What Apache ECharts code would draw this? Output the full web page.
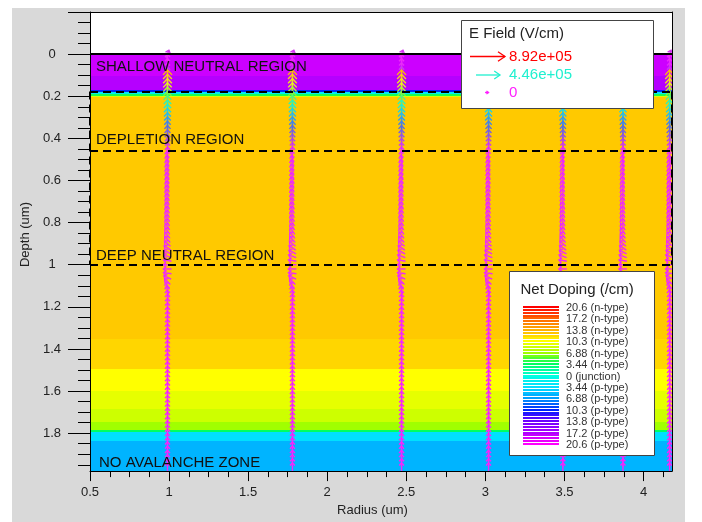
<!DOCTYPE html>
<html>
<head>
<meta charset="utf-8">
<title>Net doping and E field</title>
<script src="https://cdn.jsdelivr.net/npm/echarts@6/dist/echarts.min.js"></script>
<style>
  html, body { margin: 0; padding: 0; background: #fff; }
  #chart { width: 702px; height: 522px; }
</style>
</head>
<body>
<div id="chart"></div>
<script>
// axes
const radiusMin = 0.5, radiusMax = 4.18;
const depthMin = -0.2, depthMax = 1.98;
const radiusTicks = [0.5, 1, 1.5, 2, 2.5, 3, 3.5, 4];
const depthTicks = [-0.2, 0, 0.2, 0.4, 0.6, 0.8, 1, 1.2, 1.4, 1.6, 1.8];
const depthLabels = [0, 0.2, 0.4, 0.6, 0.8, 1, 1.2, 1.4, 1.6, 1.8];

// net doping layers (depth in um, signed level: + n-type, - p-type)
const bandTop    = [0.000, 0.105, 0.170, 0.180, 0.190, 0.197, 0.205, 1.355, 1.495, 1.600, 1.685, 1.745, 1.785, 1.795, 1.835];
const bandBottom = [0.105, 0.170, 0.180, 0.190, 0.197, 0.205, 1.355, 1.495, 1.600, 1.685, 1.745, 1.785, 1.795, 1.835, 1.980];
const bandDoping = [-18.4, -17.4, -10.0, -2.0, 4.0, 9.0, 12.7, 12.1, 10.3, 9.4, 8.5, 6.9, 3.4, -3.4, -5.8];

// legend levels of the doping scale
const dopingLevels = [20.6, 17.2, 13.8, 10.3, 6.88, 3.44, 0, -3.44, -6.88, -10.3, -13.8, -17.2, -20.6];

// regions
const regionNames = ['SHALLOW NEUTRAL REGION', 'DEPLETION REGION', 'DEEP NEUTRAL REGION', 'NO AVALANCHE ZONE'];
const regionTop = [0, 0.177, 0.457, 1.84];
const regionBottom = [0.177, 0.457, 1.0, 1.98];
const boundaryDepths = [0.177, 0.457, 1.0];

// E field vectors, same profile in every column
const arrowRadius = [0.99, 1.78, 2.47, 3.02, 3.49, 3.87, 4.165];
const arrowDepth = [
  0.00, 0.02, 0.04, 0.06, 0.08, 0.10, 0.12, 0.14, 0.16, 0.18,
  0.20, 0.22, 0.24, 0.26, 0.28, 0.30, 0.32, 0.34, 0.36, 0.38,
  0.40, 0.42, 0.44, 0.46, 0.48, 0.50, 0.52, 0.54, 0.56, 0.58,
  0.60, 0.62, 0.64, 0.66, 0.68, 0.70, 0.72, 0.74, 0.76, 0.78,
  0.80, 0.82, 0.84, 0.86, 0.88, 0.90, 0.92, 0.94, 0.96, 0.98,
  1.00, 1.02, 1.04, 1.06, 1.08, 1.10, 1.12, 1.14, 1.16, 1.18,
  1.20, 1.22, 1.24, 1.26, 1.28, 1.30, 1.32, 1.34, 1.36, 1.38,
  1.40, 1.42, 1.44, 1.46, 1.48, 1.50, 1.52, 1.54, 1.56, 1.58,
  1.60, 1.62, 1.64, 1.66, 1.68, 1.70, 1.72, 1.74, 1.76, 1.78,
  1.80, 1.82, 1.84, 1.86, 1.88, 1.90, 1.92, 1.94, 1.96
];
// magnitude in 1e5 V/cm
const fieldMag = [
  0.5, 0.2, 0.2, 0.3, 0.6, 7.4, 7.1, 6.9, 6.6, 6.1,
  5.6, 5.1, 4.7, 4.4, 4.0, 3.6, 3.1, 2.6, 2.1, 1.7,
  1.3, 0.9, 0.6, 0.3, 0.2, 0.2, 0.2, 0.2, 0.2, 0.2,
  0.2, 0.2, 0.2, 0.2, 0.2, 0.2, 0.2, 0.2, 0.2, 0.2,
  0.2, 0.2, 0.2, 0.2, 0.2, 0.2, 0.2, 0.2, 0.2, 0.2,
  0.2, 0.2, 0.2, 0.2, 0.2, 0.2, 0.2, 0.2, 0.1, 0.1,
  0.1, 0.1, 0.1, 0.1, 0.1, 0.1, 0.1, 0.1, 0.1, 0.1,
  0.1, 0.1, 0.1, 0.1, 0.1, 0.1, 0.1, 0.1, 0.1, 0.1,
  0.1, 0.1, 0.1, 0.1, 0.1, 0.1, 0.1, 0.1, 0.1, 0.1,
  0.1, 0.1, 0.1, 0.1, 0.1, 0.1, 0.1, 0.1, 0.1
];
// direction in degrees on the page, 90 = towards the surface
const fieldAngle = [
  70, 90, 90, 90, 90, 90, 90, 90, 90, 90,
  90, 90, 90, 90, 90, 90, 90, 90, 90, 90,
  90, 90, 90, 90, 100, 105, 108, 110, 110, 112,
  112, 112, 115, 115, 115, 115, 118, 118, 118, 120,
  120, 122, 125, 128, 132, 138, 145, 152, 160, 170,
  180, 180, 172, 155, 135, 118, 105, 95, 90, 90,
  90, 90, 90, 90, 90, 90, 90, 90, 90, 90,
  90, 90, 90, 90, 90, 90, 90, 90, 90, 90,
  90, 90, 90, 90, 90, 90, 90, 90, 90, 90,
  90, 90, 90, 90, 90, 90, 90, 90, 90
];
const fieldMax = 8.92;
const fieldLegendValues = [8.92, 4.46, 0];
const fieldLegendLabels = ['8.92e+05', '4.46e+05', '0'];

const font = '"Liberation Sans", Arial, sans-serif';

// colour maps
const dopingPalette = ['#ff00ff', '#b000ff', '#7000ff', '#0020ff', '#00a0ff', '#00e0ff', '#00ffe0',
  '#00ff60', '#a0ff00', '#ffff00', '#ffb000', '#ff6000', '#ff0000'];
const dopingStops = dopingLevels.slice().reverse();
const fieldPalette = ['#ff20ff', '#a050e0', '#5070e0', '#30a8f0', '#20f0d0', '#80f040', '#f0f020', '#ff9900', '#ff0000'];
const fieldStops = fieldPalette.map((c, i) => fieldMax * i / (fieldPalette.length - 1));

function hexRgb(h) {
  return [parseInt(h.slice(1, 3), 16), parseInt(h.slice(3, 5), 16), parseInt(h.slice(5, 7), 16)];
}
function lerpColor(v, stops, colors) {
  if (v <= stops[0]) return colors[0];
  if (v >= stops[stops.length - 1]) return colors[colors.length - 1];
  let i = 0;
  while (v > stops[i + 1]) i++;
  const t = (v - stops[i]) / (stops[i + 1] - stops[i]);
  const a = hexRgb(colors[i]), b = hexRgb(colors[i + 1]);
  return 'rgb(' + a.map((c, k) => Math.round(c + (b[k] - c) * t)).join(',') + ')';
}
const dopingColor = v => lerpColor(v, dopingStops, dopingPalette);
const fieldColor = v => lerpColor(v, fieldStops, fieldPalette);

// open arrow as two polylines
function arrowEls(x0, y0, x1, y1, head, spread, color, width, z) {
  const a = Math.atan2(y1 - y0, x1 - x0);
  const p1 = [x1 - head * Math.cos(a - spread), y1 - head * Math.sin(a - spread)];
  const p2 = [x1 - head * Math.cos(a + spread), y1 - head * Math.sin(a + spread)];
  const out = [
    { type: 'polyline', shape: { points: [[x0, y0], [x1, y1]] }, style: { stroke: color, lineWidth: width, fill: 'none' } },
    { type: 'polyline', shape: { points: [p1, [x1, y1], p2] }, style: { stroke: color, lineWidth: width, fill: 'none' } }
  ];
  if (z != null) out.forEach(e => { e.z = z; });
  return out;
}

const radiusMinor = radiusTicks.flatMap(t => [0.125, 0.25, 0.375].map(d => t + d)).filter(v => v < radiusMax);
const depthMinor = depthTicks.flatMap(t => [0.05, 0.1, 0.15].map(d => +(t + d).toFixed(3))).filter(v => v < depthMax);

const bandData = bandTop.map((t, i) => [t, bandBottom[i], bandDoping[i]]);
const arrowData = [];
arrowRadius.forEach(r => {
  arrowDepth.forEach((d, i) => arrowData.push([r, d, fieldMag[i], fieldAngle[i]]));
});

// legends
const graphics = [
  { type: 'rect', z: -1, silent: true, shape: { x: 12, y: 8, width: 673, height: 514 }, style: { fill: '#d9d9d9' } }
];
// E field legend
graphics.push({ type: 'rect', z: 100, shape: { x: 461.5, y: 20.5, width: 192, height: 88 }, style: { fill: '#fff', stroke: '#444', lineWidth: 1 } });
graphics.push({ type: 'text', z: 101, x: 469, y: 34, style: { text: 'E Field (V/cm)', font: '15px ' + font, fill: '#222', verticalAlign: 'middle', textVerticalAlign: 'middle' } });
const fieldRowY = [56.5, 75, 92.5];
const fieldArrowFrom = [470, 476, 485];
const fieldArrowTo = [505, 500, 488.5];
const fieldArrowHead = [8.5, 7, 2.5];
fieldLegendValues.forEach((v, i) => {
  const c = fieldColor(v);
  arrowEls(fieldArrowFrom[i], fieldRowY[i], fieldArrowTo[i], fieldRowY[i], fieldArrowHead[i], 0.6, c, 1.3, 101)
    .forEach(e => graphics.push(e));
  graphics.push({ type: 'text', z: 101, x: 509, y: fieldRowY[i], style: { text: fieldLegendLabels[i], font: '15px ' + font, fill: c, verticalAlign: 'middle', textVerticalAlign: 'middle' } });
});
// net doping legend
graphics.push({ type: 'rect', z: 100, shape: { x: 509.5, y: 271.5, width: 145, height: 184 }, style: { fill: '#fff', stroke: '#444', lineWidth: 1 } });
graphics.push({ type: 'text', z: 101, x: 520.5, y: 290, style: { text: 'Net Doping (/cm)', font: '15px ' + font, fill: '#222', verticalAlign: 'middle', textVerticalAlign: 'middle' } });
const stripeTop = 307, stripeBottom = 444, stripesPerStep = 4;
const stripeCount = (dopingLevels.length - 1) * stripesPerStep + 1;
const stripePitch = (stripeBottom - stripeTop) / (stripeCount - 1);
for (let k = 0; k < stripeCount; k++) {
  const v = dopingLevels[0] + (dopingLevels[dopingLevels.length - 1] - dopingLevels[0]) * k / (stripeCount - 1);
  graphics.push({ type: 'rect', z: 101, shape: { x: 523, y: Math.round(stripeTop + k * stripePitch - 1), width: 36, height: 2 }, style: { fill: dopingColor(v) } });
}
dopingLevels.forEach((v, i) => {
  const label = v > 0 ? v + ' (n-type)' : v < 0 ? (-v) + ' (p-type)' : '0 (junction)';
  graphics.push({ type: 'text', z: 101, x: 566, y: stripeTop + 1 + i * stripesPerStep * stripePitch,
    style: { text: label, font: '11px ' + font, fill: '#333', verticalAlign: 'middle', textVerticalAlign: 'middle' } });
});

const chart = echarts.init(document.getElementById('chart'));
const hiddenAxis = {
  type: 'value', splitLine: { show: false }, axisLabel: { show: false }, z: 10
};
const option = {
  backgroundColor: '#fff',
  animation: false,
  grid: { left: 90, right: 30, top: 12, bottom: 49, show: true, backgroundColor: '#fff', borderWidth: 0 },
  xAxis: [
    {
      type: 'value', min: radiusMin, max: radiusMax, position: 'bottom', z: 10,
      axisLine: { onZero: false, lineStyle: { color: '#000', width: 1 } },
      axisTick: { customValues: radiusTicks, length: 10, lineStyle: { color: '#000' } },
      axisLabel: { customValues: radiusTicks, margin: 15, fontSize: 13, color: '#222', fontFamily: font },
      splitLine: { show: false },
      name: 'Radius (um)', nameLocation: 'middle', nameGap: 32,
      nameTextStyle: { fontSize: 13, color: '#222', fontFamily: font, padding: [0, 17, 0, 0] }
    },
    Object.assign({}, hiddenAxis, {
      min: radiusMin, max: radiusMax, position: 'bottom',
      axisLine: { show: false, onZero: false },
      axisTick: { customValues: radiusMinor, length: 6, lineStyle: { color: '#000' } }
    }),
    Object.assign({}, hiddenAxis, {
      min: radiusMin, max: radiusMax, position: 'top',
      axisLine: { onZero: false, lineStyle: { color: '#000' } },
      axisTick: { show: false }
    })
  ],
  yAxis: [
    {
      type: 'value', inverse: true, min: depthMin, max: depthMax, position: 'left', z: 10,
      axisLine: { onZero: false, lineStyle: { color: '#000', width: 1 } },
      axisTick: { customValues: depthTicks, length: 22, lineStyle: { color: '#000' } },
      axisLabel: { customValues: depthLabels, margin: 38, align: 'center', fontSize: 13, color: '#222', fontFamily: font },
      splitLine: { show: false },
      name: 'Depth (um)', nameLocation: 'middle', nameGap: 52,
      nameTextStyle: { fontSize: 13, color: '#222', fontFamily: font, padding: [0, 0, 0, 14] }
    },
    Object.assign({}, hiddenAxis, {
      inverse: true, min: depthMin, max: depthMax, position: 'left',
      axisLine: { show: false, onZero: false },
      axisTick: { customValues: depthMinor, length: 12, lineStyle: { color: '#000' } }
    }),
    Object.assign({}, hiddenAxis, {
      inverse: true, min: depthMin, max: depthMax, position: 'right',
      axisLine: { onZero: false, lineStyle: { color: '#000' } },
      axisTick: { show: false }
    })
  ],
  graphic: { elements: graphics },
  series: [
    {
      name: 'Net doping', type: 'custom', z: 1, silent: true, clip: true,
      data: bandData,
      renderItem: function (params, api) {
        const cs = params.coordSys;
        const y0 = Math.round(api.coord([radiusMin, api.value(0)])[1]);
        const y1 = Math.round(api.coord([radiusMin, api.value(1)])[1]);
        return { type: 'rect', shape: { x: cs.x, y: y0, width: cs.width, height: y1 - y0 },
          style: { fill: dopingColor(api.value(2)) } };
      }
    },
    {
      name: 'E field', type: 'custom', z: 3, silent: true, clip: true,
      data: arrowData,
      renderItem: function (params, api) {
        const p = api.coord([api.value(0), api.value(1)]);
        const m = api.value(2);
        const a = api.value(3) * Math.PI / 180;
        const len = 8 + 0.3 * m, head = 3.6 + 0.4 * m;
        const ux = Math.cos(a), uy = -Math.sin(a);
        return {
          type: 'group',
          children: arrowEls(p[0] - ux * len / 2, p[1] - uy * len / 2, p[0] + ux * len / 2, p[1] + uy * len / 2,
            head, 0.75, fieldColor(m), 1.4)
        };
      }
    },
    {
      name: 'Regions', type: 'line', z: 5, silent: true, data: [],
      markLine: {
        silent: true, z: 6, symbol: ['none', 'none'], label: { show: false },
        lineStyle: { color: '#000', width: 2, type: [8, 5] },
        data: [{ yAxis: 0, lineStyle: { type: 'solid', width: 2, color: '#000' } }]
          .concat(boundaryDepths.map(d => ({ yAxis: d })))
          .concat([radiusMin, radiusMax].map(r => [
            { coord: [r, boundaryDepths[0]] },
            { coord: [r, boundaryDepths[boundaryDepths.length - 1]] }
          ]))
      },
      markArea: {
        silent: true, z: 7,
        itemStyle: { color: 'rgba(0,0,0,0)', borderWidth: 0 },
        label: { show: true, color: '#111', fontSize: 15, fontFamily: font, distance: 0 },
        data: regionNames.map((n, i) => [
          { name: n, yAxis: regionTop[i],
            label: { position: i === 0 ? 'insideTopLeft' : 'insideBottomLeft',
              offset: [[6, 5], [6, -3], [6, -1], [9, -1]][i] } },
          { yAxis: regionBottom[i] }
        ])
      }
    }
  ]
};
chart.setOption(option);
</script>
</body>
</html>
